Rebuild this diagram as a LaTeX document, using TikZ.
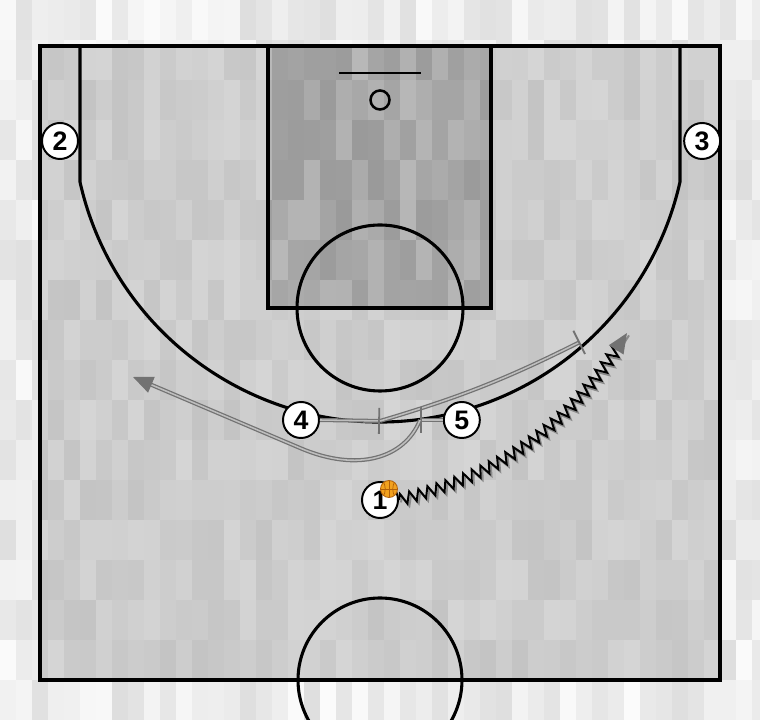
\documentclass[tikz,border=0pt]{standalone}
\usepackage{fontspec}
\setsansfont{Liberation Sans}
\usetikzlibrary{positioning,arrows.meta,decorations.pathmorphing}

\definecolor{fond}{HTML}{DEDEDE}
\definecolor{parquet}{HTML}{C4C4C4}
\definecolor{raquette}{HTML}{9A9A9A}
\definecolor{trajet}{HTML}{727272}
\definecolor{trajetclair}{HTML}{BEBEBE}
\definecolor{ombre}{HTML}{8A8A8A}
\definecolor{ballon}{HTML}{F2A11E}
\definecolor{ballonbord}{HTML}{B0600A}

\tikzset{
  ligne/.style={line width=2.2pt},
  joueur/.style={circle, draw, line width=1.4pt, fill=white, minimum size=0.9cm, inner sep=0pt,
    font=\sffamily\bfseries\fontsize{19}{19}\selectfont},
  ecran/.style={draw=trajet, double=trajetclair, line width=0.9pt, double distance=1.1pt,
    -{Bar[width=0.65cm, line width=1.3pt]}},
  course/.style={draw=trajet, double=trajetclair, line width=0.9pt, double distance=1.1pt,
    -{Triangle[length=0.5cm, width=0.42cm]}},
  dribble/.style={line width=1.4pt, decorate,
    decoration={zigzag, segment length=0.24cm, amplitude=0.14cm, post length=0.4cm}}
}

\begin{document}
\begin{tikzpicture}[x=0.025cm,y=0.025cm,node distance=2cm]
  \useasboundingbox (0,0) rectangle (760,720);
  \clip (0,0) rectangle (760,720);

  %Fond
  \fill[fond] (0,0) rectangle (760,720);
  \pgfmathsetseed{11}
  \foreach \i in {0,...,47} {
    \foreach \j in {0,...,17} {
      \pgfmathsetmacro\op{rnd*0.9}
      \fill[white, opacity=\op] (\i*16,\j*40) rectangle ++(16,40);
    }
  }

  %Terrain
  \begin{scope}
    \clip (40,40) rectangle (720,674);
    \fill[parquet] (40,40) rectangle (720,674);
    \fill[raquette] (268,412) rectangle (491,674);
    \foreach \i in {0,...,47} {
      \foreach \j in {0,...,17} {
        \pgfmathsetmacro\op{rnd*0.3}
        \fill[white, opacity=\op] (\i*16,\j*40) rectangle ++(16,40);
      }
    }
  \end{scope}

  \draw[ligne] (40,40) rectangle (720,674);
  \draw[ligne] (268,412) rectangle (491,674);
  \draw[ligne] (380,412) circle[radius=83];
  \draw[ligne] (380,40) circle[radius=82];
  \draw[ligne] (80,674) -- (80,538) arc[start angle=192.68, end angle=347.32, radius=307.5] -- (680,674);
  \draw[line width=1.5pt] (339,647) -- (421,647);
  \draw[line width=1.8pt] (380,620) circle[radius=9.5];

  %Joueurs
  \node[joueur] (j2) at (60,579) {2};
  \node[joueur, right=15.1cm of j2] (j3) {3};
  \node[joueur] (j4) at (301,300) {4};
  \node[joueur, right=3.07cm of j4] (j5) {5};
  \node[joueur] (j1) at (380,220) {1};

  %Ballon
  \filldraw[fill=ballon, draw=ballonbord, line width=0.6pt] (389,231) circle[radius=8.5];
  \begin{scope}
    \clip (389,231) circle[radius=8.5];
    \draw[ballonbord, line width=0.5pt] (380,231) -- (398,231) (389,222) -- (389,240);
    \draw[ballonbord, line width=0.5pt] (383,223) .. controls (386,228) and (386,234) .. (383,239);
    \draw[ballonbord, line width=0.5pt] (395,223) .. controls (392,228) and (392,234) .. (395,239);
  \end{scope}

  %Points de passage
  \coordinate (e4) at (380,299);
  \coordinate (f4) at (580,378);
  \coordinate (e5) at (420,300);
  \coordinate (c5) at (300,272);
  \coordinate (f5) at (133,343);
  \coordinate (f1) at (627,387);

  %Deplacements
  \draw[ecran] (j4.east) -- (e4);
  \draw[ecran] (e4) to[bend right=5] (f4);
  \draw[ecran] (j5.west) -- (e5);
  \draw[course] (e5) .. controls (405,262) and (358,247) .. (c5) -- (f5);

  \draw[dribble, ombre, transform canvas={shift={(0.05cm,-0.06cm)}}] (j1.east) to[bend right=22] (f1);
  \draw[dribble, -{Triangle[length=0.5cm, width=0.42cm, color=trajet]}] (j1.east) to[bend right=22] (f1);

\end{tikzpicture}
\end{document}
